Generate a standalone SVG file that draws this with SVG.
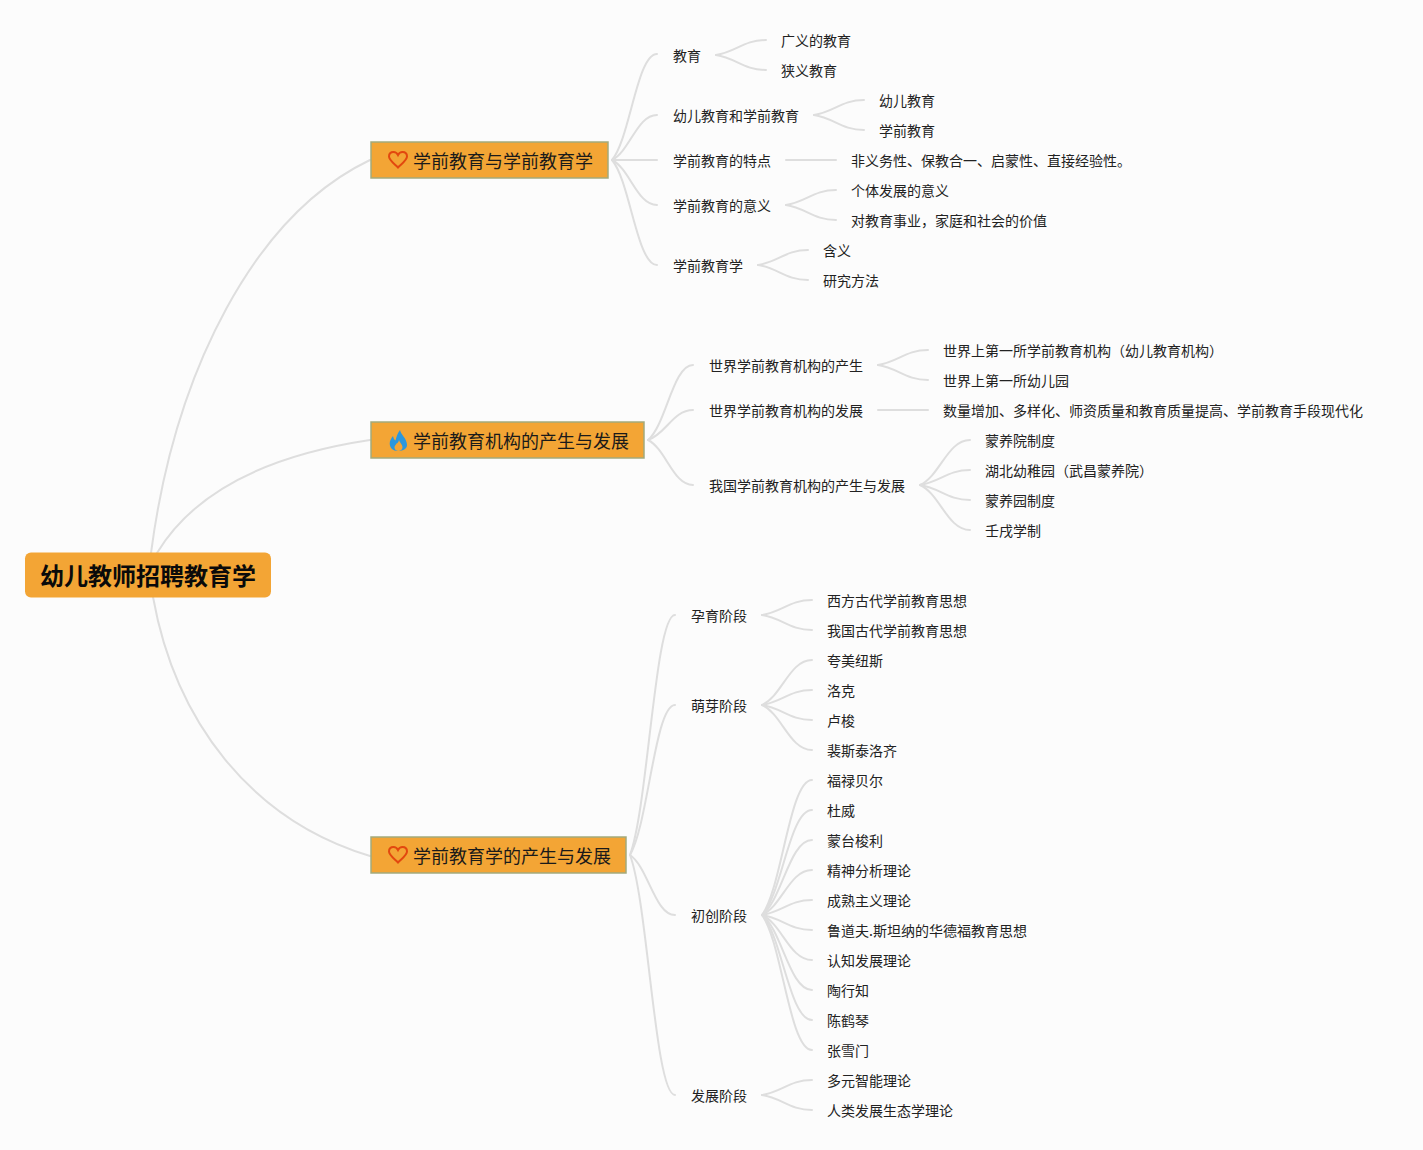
<svg xmlns="http://www.w3.org/2000/svg" width="1423" height="1150" viewBox="0 0 1423 1150">
<style>
text{font-family:"Noto Sans CJK SC","Noto Sans",sans-serif;fill:#222}
.l{font-size:14px}
.m{font-size:18px;fill:#1a1a1a}
.r{font-size:24px;font-weight:700;fill:#0a0a0a}
.box{fill:#f3a535;stroke:#a3aa7c;stroke-width:1.5}
#connectors path{fill:none;stroke:#dedede;stroke-width:2;stroke-linecap:round}
.heart{fill:none;stroke:#e2480f;stroke-width:2}
</style>
<defs>
<path id="heart" class="heart" d="M0 7.500C-4 3.500-9 0-9-3.500C-9-6.500-7-8-4.500-8C-2.500-8-1-7 0-5C1-7 2.500-8 4.500-8C7-8 9-6.500 9-3.500C9 0 4 3.500 0 7.500Z"/>
</defs>
<rect width="1423" height="1150" fill="#fcfcfc"/>
<g id="connectors">
<path d="M151 553C175 370 255 215 370 160"/>
<path d="M157 553C195 490 270 455 370 440"/>
<path d="M153 597C175 720 250 820 370 856"/>
<path d="M612 160C630 138.800 637 54 657 54"/>
<path d="M612 160C630 151 637 115 657 115"/>
<path d="M612 160H657"/>
<path d="M612 160C630 169 637 205 657 205"/>
<path d="M612 160C630 181 637 265 657 265"/>
<path d="M648 440C666 425 673 365 693 365"/>
<path d="M648 440C666 434 673 410 693 410"/>
<path d="M648 440C666 449 673 485 693 485"/>
<path d="M630 855C648 807 655 615 675 615"/>
<path d="M630 855C648 825 655 705 675 705"/>
<path d="M630 855C648 867 655 915 675 915"/>
<path d="M630 855C648 903 655 1095 675 1095"/>
<path d="M716 55C736 52 743.500 40 766 40"/>
<path d="M716 55C736 58 743.500 70 766 70"/>
<path d="M814 115C834 112 841.500 100 864 100"/>
<path d="M814 115C834 118 841.500 130 864 130"/>
<path d="M786 160H836"/>
<path d="M786 205C806 202 813.500 190 836 190"/>
<path d="M786 205C806 208 813.500 220 836 220"/>
<path d="M758 265C778 262 785.500 250 808 250"/>
<path d="M758 265C778 268 785.500 280 808 280"/>
<path d="M878 365C898 362 905.500 350 928 350"/>
<path d="M878 365C898 368 905.500 380 928 380"/>
<path d="M878 410H928"/>
<path d="M920 485C940 476 947.500 440 970 440"/>
<path d="M920 485C940 482 947.500 470 970 470"/>
<path d="M920 485C940 488 947.500 500 970 500"/>
<path d="M920 485C940 494 947.500 530 970 530"/>
<path d="M762 615C782 612 789.500 600 812 600"/>
<path d="M762 615C782 618 789.500 630 812 630"/>
<path d="M762 705C782 696 789.500 660 812 660"/>
<path d="M762 705C782 702 789.500 690 812 690"/>
<path d="M762 705C782 708 789.500 720 812 720"/>
<path d="M762 705C782 714 789.500 750 812 750"/>
<path d="M762 915C782 888 789.500 780 812 780"/>
<path d="M762 915C782 894 789.500 810 812 810"/>
<path d="M762 915C782 900 789.500 840 812 840"/>
<path d="M762 915C782 906 789.500 870 812 870"/>
<path d="M762 915C782 912 789.500 900 812 900"/>
<path d="M762 915C782 918 789.500 930 812 930"/>
<path d="M762 915C782 924 789.500 960 812 960"/>
<path d="M762 915C782 930 789.500 990 812 990"/>
<path d="M762 915C782 936 789.500 1020 812 1020"/>
<path d="M762 915C782 942 789.500 1050 812 1050"/>
<path d="M762 1095C782 1092 789.500 1080 812 1080"/>
<path d="M762 1095C782 1098 789.500 1110 812 1110"/>
</g>
<g id="root"><rect x="25" y="552.500" width="246" height="45" rx="6" fill="#f3a535"/><text class="r" x="40" y="585">幼儿教师招聘教育学</text></g>
<g id="n1"><rect class="box" x="371" y="142" width="237" height="36"/><use href="#heart" x="398" y="160"/><text class="m" x="413" y="168">学前教育与学前教育学</text></g>
<g id="n2"><rect class="box" x="371" y="422" width="273" height="36"/><path fill="#2b97dd" d="M400 430C401 435 406.500 438 407 444.500C407.300 448.500 403.500 451 398 451C393 451 389.700 448 389.700 443.500C389.700 440.500 391.500 438 393 436C393.500 438 394 439.500 395.500 440.500C396.500 437 397.500 433 400 430Z"/><path fill="#f3a535" d="M399 440C399.500 442.500 402.500 444.500 402.500 447C402.500 449.500 400.500 451 398.500 451C396.500 451 394.500 449.500 394.500 447.500C394.500 445.500 396 445 396.500 443.500C397.500 443.500 398.500 442 399 440Z"/><text class="m" x="413" y="448">学前教育机构的产生与发展</text></g>
<g id="n3"><rect class="box" x="371" y="837" width="255" height="36"/><use href="#heart" x="398" y="855"/><text class="m" x="413" y="863">学前教育学的产生与发展</text></g>
<g id="n1-1"><text class="l" x="673" y="61">教育</text></g>
<g id="n1-1-1"><text class="l" x="781" y="46">广义的教育</text></g>
<g id="n1-1-2"><text class="l" x="781" y="76">狭义教育</text></g>
<g id="n1-2"><text class="l" x="673" y="121">幼儿教育和学前教育</text></g>
<g id="n1-2-1"><text class="l" x="879" y="106">幼儿教育</text></g>
<g id="n1-2-2"><text class="l" x="879" y="136">学前教育</text></g>
<g id="n1-3"><text class="l" x="673" y="166">学前教育的特点</text></g>
<g id="n1-3-1"><text class="l" x="851" y="166">非义务性、保教合一、启蒙性、直接经验性。</text></g>
<g id="n1-4"><text class="l" x="673" y="211">学前教育的意义</text></g>
<g id="n1-4-1"><text class="l" x="851" y="196">个体发展的意义</text></g>
<g id="n1-4-2"><text class="l" x="851" y="226">对教育事业，家庭和社会的价值</text></g>
<g id="n1-5"><text class="l" x="673" y="271">学前教育学</text></g>
<g id="n1-5-1"><text class="l" x="823" y="256">含义</text></g>
<g id="n1-5-2"><text class="l" x="823" y="286">研究方法</text></g>
<g id="n2-1"><text class="l" x="709" y="371">世界学前教育机构的产生</text></g>
<g id="n2-1-1"><text class="l" x="943" y="356">世界上第一所学前教育机构（幼儿教育机构）</text></g>
<g id="n2-1-2"><text class="l" x="943" y="386">世界上第一所幼儿园</text></g>
<g id="n2-2"><text class="l" x="709" y="416">世界学前教育机构的发展</text></g>
<g id="n2-2-1"><text class="l" x="943" y="416">数量增加、多样化、师资质量和教育质量提高、学前教育手段现代化</text></g>
<g id="n2-3"><text class="l" x="709" y="491">我国学前教育机构的产生与发展</text></g>
<g id="n2-3-1"><text class="l" x="985" y="446">蒙养院制度</text></g>
<g id="n2-3-2"><text class="l" x="985" y="476">湖北幼稚园（武昌蒙养院）</text></g>
<g id="n2-3-3"><text class="l" x="985" y="506">蒙养园制度</text></g>
<g id="n2-3-4"><text class="l" x="985" y="536">壬戌学制</text></g>
<g id="n3-1"><text class="l" x="691" y="621">孕育阶段</text></g>
<g id="n3-1-1"><text class="l" x="827" y="606">西方古代学前教育思想</text></g>
<g id="n3-1-2"><text class="l" x="827" y="636">我国古代学前教育思想</text></g>
<g id="n3-2"><text class="l" x="691" y="711">萌芽阶段</text></g>
<g id="n3-2-1"><text class="l" x="827" y="666">夸美纽斯</text></g>
<g id="n3-2-2"><text class="l" x="827" y="696">洛克</text></g>
<g id="n3-2-3"><text class="l" x="827" y="726">卢梭</text></g>
<g id="n3-2-4"><text class="l" x="827" y="756">裴斯泰洛齐</text></g>
<g id="n3-3"><text class="l" x="691" y="921">初创阶段</text></g>
<g id="n3-3-1"><text class="l" x="827" y="786">福禄贝尔</text></g>
<g id="n3-3-2"><text class="l" x="827" y="816">杜威</text></g>
<g id="n3-3-3"><text class="l" x="827" y="846">蒙台梭利</text></g>
<g id="n3-3-4"><text class="l" x="827" y="876">精神分析理论</text></g>
<g id="n3-3-5"><text class="l" x="827" y="906">成熟主义理论</text></g>
<g id="n3-3-6"><text class="l" x="827" y="936">鲁道夫.斯坦纳的华德福教育思想</text></g>
<g id="n3-3-7"><text class="l" x="827" y="966">认知发展理论</text></g>
<g id="n3-3-8"><text class="l" x="827" y="996">陶行知</text></g>
<g id="n3-3-9"><text class="l" x="827" y="1026">陈鹤琴</text></g>
<g id="n3-3-10"><text class="l" x="827" y="1056">张雪门</text></g>
<g id="n3-4"><text class="l" x="691" y="1101">发展阶段</text></g>
<g id="n3-4-1"><text class="l" x="827" y="1086">多元智能理论</text></g>
<g id="n3-4-2"><text class="l" x="827" y="1116">人类发展生态学理论</text></g>
</svg>
